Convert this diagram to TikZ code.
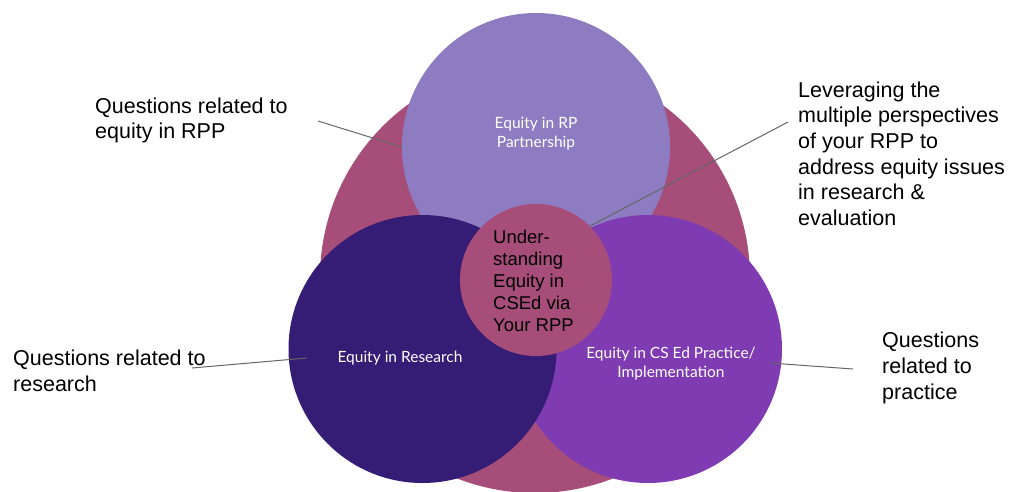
\documentclass[tikz,border=0pt]{standalone}
\usepackage{fontspec}
\setmainfont{Liberation Sans}
\newfontfamily\discfont{Lato}
\usepackage{tikz}
\usetikzlibrary{positioning}
\usepackage{xcolor}
\definecolor{rppmaroon}{HTML}{A64D79}
\definecolor{rpplavender}{HTML}{8E7CC3}
\definecolor{rppdark}{HTML}{351C75}
\definecolor{rpppurple}{HTML}{7E3BB2}
\definecolor{leadgray}{HTML}{666666}

\begin{document}
\begin{tikzpicture}[x=1pt,y=-1pt,every node/.style={inner sep=0pt},
  disc/.style={circle,draw=none,minimum size=#1},
  disclabel/.style={text=white,align=center,font=\discfont\fontsize{15.5}{19}\selectfont},
  sidelabel/.style={anchor=north west,align=left,font=\fontsize{21.5}{#1}\selectfont},
  lead/.style={draw=leadgray,line width=1pt}]
\useasboundingbox (0,0) rectangle (1012,491);
% the four areas and the core
\node[disc=430pt,fill=rppmaroon] (rpp) at (535,278) {};
\node[disc=268pt,fill=rpplavender] (partner) at (536,147) {};
\node[disc=268pt,fill=rpppurple] (practice) at (648,349) {};
\node[disc=268pt,fill=rppdark] (research) at (422.5,349) {};
\node[disc=152pt,fill=rppmaroon] (core) at (536,280) {};
\node[disclabel] (partnertext) at (536,134) {Equity in RP\\Partnership};
\node[disclabel] (researchtext) at (400,358) {Equity in Research};
\node[disclabel] (practicetext) at (671,364) {Equity in CS Ed Practice/\\Implementation};
\node[anchor=north west,align=left,font=\fontsize{18.5}{22}\selectfont] (coretext) at (493,229.8)
  {Under-\\standing\\Equity in\\CSEd via\\Your RPP};
% question labels
\node[sidelabel=25] (qrpp) at (95,97.6) {Questions related to\\equity in RPP};
\node[sidelabel=25.6] (lever) at (798,81.6) {Leveraging the\\multiple perspectives\\of your RPP to\\address equity issues\\in research \&\\evaluation};
\node[sidelabel=26.6] (qresearch) at (13,349.6) {Questions related to\\research};
\node[sidelabel=26] (qpractice) at (882,331.6) {Questions\\related to\\practice};
% leader lines
\coordinate (qrpptip) at (318,121);
\coordinate (levertip) at (788,122);
\coordinate (qresearchtip) at (192,368);
\coordinate (researchtip) at (307,358);
\coordinate (practicetip) at (770,363);
\coordinate (qpracticetip) at (853,369);
\draw[lead] (qrpptip) -- (partner.west);
\draw[lead] (levertip) -- (core.45);
\draw[lead] (qresearchtip) -- (researchtip);
\draw[lead] (practicetip) -- (qpracticetip);
\end{tikzpicture}
\end{document}
